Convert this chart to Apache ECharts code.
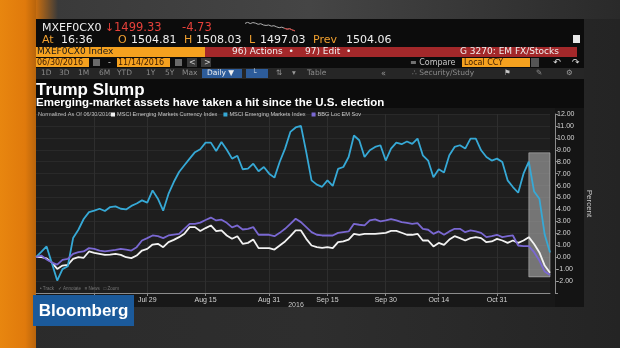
<!DOCTYPE html>
<html>
<head>
<meta charset="utf-8">
<script src="https://cdn.jsdelivr.net/npm/echarts@6/dist/echarts.min.js"></script>
<style>
html,body{margin:0;padding:0;background:#262626;}
#c{width:620px;height:348px;}
</style>
</head>
<body>
<div id="c"></div>
<script>
// Percent change since 06/30/2016, one value per weekday from Jun 30 to Nov 14 2016
const emCurrency = [0.00,0.00,-0.10,-0.45,-0.98,-0.70,-0.64,-0.14,0.00,-0.05,
  0.48,0.36,0.28,0.20,0.22,0.28,0.20,0.00,-0.08,0.14,
  0.56,0.70,1.06,1.12,0.84,1.26,1.45,1.68,1.96,2.52,
  2.52,2.20,2.44,2.66,2.18,2.24,1.82,1.55,1.76,1.12,
  1.20,1.48,0.76,0.76,0.76,0.64,0.98,1.32,1.76,2.24,
  2.24,1.54,0.98,0.84,0.78,0.84,0.76,1.26,1.32,1.48,
  1.96,1.88,1.96,1.96,1.96,2.00,2.04,2.20,2.20,2.05,
  1.88,1.88,1.96,1.40,1.40,0.90,1.20,1.04,1.48,1.76,
  1.60,1.40,1.60,1.68,1.60,1.26,1.32,1.54,1.40,1.20,
  1.40,1.20,1.40,1.68,1.10,0.40,-0.70,-1.30];
const emIndex = [0.00,0.45,0.90,-0.50,-1.96,-1.00,-0.76,1.60,2.30,3.20,
  3.78,3.90,4.06,3.87,4.20,4.26,4.06,4.00,4.30,4.50,
  4.76,4.57,5.60,4.90,3.90,5.30,6.30,7.14,7.70,8.26,
  8.80,9.05,9.60,9.60,8.90,9.66,9.00,8.26,8.50,7.37,
  7.42,7.84,7.20,7.56,7.00,6.67,8.00,9.10,10.50,10.87,
  11.00,8.80,6.44,6.08,5.90,6.44,5.97,7.40,7.56,8.40,
  10.20,9.80,8.40,8.96,9.24,9.38,8.10,9.10,9.60,9.47,
  9.70,9.50,9.94,8.54,8.10,6.70,7.37,7.10,8.54,9.24,
  9.38,9.10,9.94,9.94,8.96,8.40,8.10,8.26,7.98,6.44,
  5.88,5.40,7.00,8.00,5.50,4.90,1.90,0.40];
const locEmSov = [0.00,0.14,-0.20,-0.45,-0.62,-0.22,-0.14,0.28,0.42,0.48,
  0.76,0.70,0.56,0.48,0.56,0.62,0.70,0.64,0.56,0.84,
  1.40,1.60,1.82,1.76,1.60,1.82,1.90,1.96,2.38,2.80,
  2.80,2.90,3.12,3.32,3.08,3.14,2.88,2.50,2.66,2.32,
  2.38,2.52,1.88,1.88,1.88,1.76,2.04,2.38,2.80,3.22,
  2.94,2.52,2.10,1.88,1.82,1.82,1.82,2.04,2.10,2.16,
  2.80,2.72,2.66,3.08,3.17,3.00,3.08,3.20,3.08,2.94,
  2.88,2.80,2.86,2.38,2.30,1.96,2.16,1.88,2.16,2.38,
  2.38,2.10,2.24,2.16,2.04,1.68,1.76,1.88,1.68,1.76,
  1.82,0.98,0.92,0.92,0.42,-0.28,-1.20,-1.50];

const seriesNames = ['MSCI Emerging Markets Currency Index', 'MSCI Emerging Markets Index', 'BBG Loc EM Sov'];
const seriesColors = ['#f2f2f2', '#36a9d6', '#7a68d2'];

// x-axis tick dates and their labels
const tickDates = ['2016-07-15','2016-07-29','2016-08-15','2016-08-31','2016-09-15','2016-09-30','2016-10-14','2016-10-31'];
const tickLabels = ['Jul 15','Jul 29','Aug 15','Aug 31','Sep 15','Sep 30','Oct 14','Oct 31'];

// post-election window that is shaded
const shadeFrom = '2016-11-08', shadeTo = '2016-11-14';
const shadeTop = 8.75, shadeBottom = -1.65;

// header mini price trace
const sparkValues = [6.0,6.8,5.9,6.6,6.2,5.4,5.8,4.9,4.6,4.9,4.1,4.4,3.6,3.0,3.4,2.6,2.0,2.3,1.4,0.8];

// trading-day calendar (weekdays)
function weekdays(from, to) {
  const out = [];
  const d = new Date(from + 'T00:00:00Z');
  const end = new Date(to + 'T00:00:00Z');
  while (d <= end) {
    const w = d.getUTCDay();
    if (w !== 0 && w !== 6) out.push(d.toISOString().slice(0, 10));
    d.setUTCDate(d.getUTCDate() + 1);
  }
  return out;
}
const dates = weekdays('2016-06-30', '2016-11-14');
const tickSet = new Set(tickDates);
const labelOf = {};
tickDates.forEach((d, i) => { labelOf[d] = tickLabels[i]; });

const FONT = '"DejaVu Sans", sans-serif';
const SANS = '"Liberation Sans", Arial, sans-serif';

function txt(x, y, s, color, size, extra) {
  return Object.assign({
    type: 'text', x: x, y: y, z: 20,
    style: { text: s, fill: color, font: size + 'px ' + FONT, textVerticalAlign: 'middle' }
  }, extra || {});
}
function box(x, y, w, h, color, z) {
  return { type: 'rect', shape: { x: x, y: y, width: w, height: h }, style: { fill: color }, z: z === undefined ? -5 : z };
}

const graphics = [
  // studio backdrop
  { type: 'rect', shape: { x: 0, y: 0, width: 620, height: 348 }, z: -20,
    style: { fill: new echarts.graphic.LinearGradient(0, 0, 1, 0, [
      { offset: 0, color: '#2b2b2b' }, { offset: 0.5, color: '#2e2e2e' }, { offset: 1, color: '#242424' }]) } },
  { type: 'rect', shape: { x: 55, y: 0, width: 565, height: 19 }, z: -19,
    style: { fill: new echarts.graphic.LinearGradient(0, 0, 1, 0, [
      { offset: 0, color: '#3a3a3a' }, { offset: 0.45, color: '#454545' }, { offset: 1, color: '#2a2a2a' }]) } },
  // orange edge
  { type: 'rect', shape: { x: 0, y: 0, width: 36, height: 348 }, z: -18,
    style: { fill: new echarts.graphic.LinearGradient(0, 0, 1, 0, [
      { offset: 0, color: '#e8860f' }, { offset: 0.7, color: '#e07a0c' }, { offset: 1, color: '#b8640c' }]) } },
  { type: 'rect', shape: { x: 36, y: 0, width: 22, height: 19 }, z: -18,
    style: { fill: new echarts.graphic.LinearGradient(0, 0, 1, 0, [
      { offset: 0, color: '#c86e10' }, { offset: 1, color: '#3a3a3a' }]) } },

  // terminal screen
  box(36, 19, 548, 288, '#0c0c0c', -10),
  box(36, 108, 548, 199, '#181818', -9),
  box(555, 108, 29, 199, '#141414', -8),

  // row 1
  txt(42, 28, 'MXEF0CX0', '#f0f0f0', 11),
  txt(105, 28, '\u2193', '#e5403a', 11),
  txt(114, 28, '1499.33', '#e5403a', 11.5),
  txt(182, 28, '-4.73', '#e5403a', 11.5),
  // row 2
  txt(42, 40, 'At', '#f0a030', 11),
  txt(61, 40, '16:36', '#f0f0f0', 11),
  txt(118, 40, 'O', '#f0a030', 11),
  txt(131, 40, '1504.81', '#f0f0f0', 11),
  txt(184, 40, 'H', '#f0a030', 11),
  txt(196, 40, '1508.03', '#f0f0f0', 11),
  txt(249, 40, 'L', '#f0a030', 11),
  txt(260, 40, '1497.03', '#f0f0f0', 11),
  txt(313, 40, 'Prev', '#f0a030', 11),
  txt(346, 40, '1504.06', '#f0f0f0', 11),
  box(573, 35, 7, 8, '#e8e8e8', 10),
  // row 3
  box(36, 47, 169, 10, '#f5a11f', -4),
  box(205, 47, 372, 10, '#a3282a', -4),
  txt(37, 52, 'MXEF0CX0 Index', '#1a1a1a', 9),
  txt(232, 52, '96) Actions  \u2022', '#f0f0f0', 9),
  txt(305, 52, '97) Edit  \u2022', '#f0f0f0', 9),
  txt(460, 52, 'G 3270: EM FX/Stocks', '#f0f0f0', 9),
  // row 4
  box(36, 58, 53, 9, '#f5a11f', -4),
  txt(37, 62.5, '06/30/2016', '#3a1a00', 8),
  box(93, 59, 7, 7, '#6a6a6a', -4),
  txt(108, 62.5, '-', '#d0d0d0', 8),
  box(117, 58, 53, 9, '#f5a11f', -4),
  txt(118, 62.5, '11/14/2016', '#3a1a00', 8),
  box(175, 59, 7, 7, '#6a6a6a', -4),
  box(187, 58, 10, 9, '#3a3a3a', -4),
  box(201, 58, 10, 9, '#3a3a3a', -4),
  txt(189, 62.5, '<', '#d0d0d0', 8),
  txt(204, 62.5, '>', '#d0d0d0', 8),
  txt(410, 62.5, '\u2261 Compare', '#c8c8c8', 8),
  box(462, 58, 68, 9, '#f5a11f', -4),
  txt(464, 62.5, 'Local CCY', '#3a1a00', 8),
  box(531, 58, 8, 9, '#555', -4),
  txt(553, 62.5, '\u21B6', '#e0e0e0', 9),
  txt(572, 62.5, '\u21B7', '#e0e0e0', 9),
  // row 5
  box(36, 68, 548, 11, '#262626', -4),
  txt(41, 73.5, '1D', '#8a8a8a', 7.5),
  txt(59, 73.5, '3D', '#8a8a8a', 7.5),
  txt(78, 73.5, '1M', '#8a8a8a', 7.5),
  txt(99, 73.5, '6M', '#8a8a8a', 7.5),
  txt(117, 73.5, 'YTD', '#8a8a8a', 7.5),
  txt(146, 73.5, '1Y', '#8a8a8a', 7.5),
  txt(165, 73.5, '5Y', '#8a8a8a', 7.5),
  txt(182, 73.5, 'Max', '#8a8a8a', 7.5),
  box(202, 69, 40, 9, '#2d5c9a', -3),
  txt(207, 73.5, 'Daily \u25BC', '#f0f0f0', 7.5),
  box(246, 69, 22, 9, '#2d5c9a', -3),
  txt(252, 73.5, '\u2514', '#bcd', 7.5),
  txt(276, 73.5, '\u21C5', '#9a9a9a', 7.5),
  txt(292, 73.5, '\u25BE', '#9a9a9a', 7.5),
  txt(307, 73.5, 'Table', '#8a8a8a', 7.5),
  txt(381, 73.5, '\u00AB', '#9a9a9a', 8),
  txt(412, 73.5, '\u2234 Security/Study', '#8a8a8a', 7.5),
  txt(504, 73.5, '\u2691', '#c8c8c8', 7.5),
  txt(536, 73.5, '\u270E', '#9a9a9a', 7.5),
  txt(566, 73.5, '\u2699', '#9a9a9a', 7.5),

  // headline
  { type: 'text', x: 36, y: 90, z: 20, style: { text: 'Trump Slump', fill: '#ffffff',
    font: 'bold 17px ' + SANS, textVerticalAlign: 'middle' } },
  { type: 'text', x: 36, y: 102.5, z: 20, style: { text: 'Emerging-market assets have taken a hit since the U.S. election',
    fill: '#ffffff', font: 'bold 11.5px ' + SANS, textVerticalAlign: 'middle' } },
  // legend prefix
  { type: 'text', x: 38, y: 114.5, z: 20, style: { text: 'Normalized As Of 06/30/2016', fill: '#bdbdbd',
    font: '5.6px ' + SANS, textVerticalAlign: 'middle' } },
  // chart toolbar at the bottom of the plot
  { type: 'text', x: 40, y: 289, z: 20, style: { text: '\u2022 Track   \u2713 Annotate   \u2261 News   \u25A1 Zoom', fill: '#777',
    font: '4.5px ' + SANS, textVerticalAlign: 'middle' } },
  { type: 'text', x: 296, y: 305, z: 20, style: { text: '2016', fill: '#c8c8c8',
    font: '7px ' + SANS, textAlign: 'center', textVerticalAlign: 'middle' } },

  // network logo
  box(33, 295, 101, 31, '#1b5a9b', 100),
  { type: 'text', x: 83.5, y: 311, z: 101, style: { text: 'Bloomberg', fill: '#ffffff',
    font: 'bold 17px ' + SANS, textAlign: 'center', textVerticalAlign: 'middle' } }
];

const chart = echarts.init(document.getElementById('c'));

const lineSeries = [1, 2, 0].map(i => ({
  name: seriesNames[i],
  type: 'line',
  data: [emCurrency, emIndex, locEmSov][i],
  symbol: 'none',
  lineStyle: { color: seriesColors[i], width: 1.8 },
  itemStyle: { color: seriesColors[i] },
  z: 3 + i,
  animation: false
}));

chart.setOption({
  backgroundColor: 'transparent',
  animation: false,
  graphic: graphics,
  legend: {
    data: seriesNames,
    left: 111, top: 111.5,
    icon: 'rect', itemWidth: 4, itemHeight: 4, itemGap: 6,
    textStyle: { color: '#c8c8c8', fontSize: 5.6, fontFamily: SANS, padding: [0, 0, 0, -3] },
    padding: 0,
    selectedMode: false
  },
  grid: [
    { left: 36, right: 70, top: 114, height: 179, show: true, backgroundColor: '#1e1e1e', borderWidth: 0 },
    { left: 245, top: 22, width: 50, height: 10 }
  ],
  xAxis: [{
    type: 'category', data: dates, boundaryGap: false,
    axisLine: { onZero: false, lineStyle: { color: '#8c8c8c', width: 1 } },
    axisTick: { show: true, length: 3, interval: (i, v) => tickSet.has(v), lineStyle: { color: '#8c8c8c' } },
    axisLabel: { interval: (i, v) => tickSet.has(v), formatter: v => labelOf[v] || '',
      color: '#d4d4d4', fontSize: 7, fontFamily: SANS, margin: 4 },
    splitLine: { show: true, interval: (i, v) => tickSet.has(v), lineStyle: { color: '#2e2e2e', width: 1 } }
  }, {
    gridIndex: 1, type: 'category', show: false, boundaryGap: false,
    data: sparkValues.map((v, i) => i)
  }],
  yAxis: [{
    type: 'value', position: 'right', min: -3, max: 12, interval: 1, offset: 5,
    axisLine: { show: true, lineStyle: { color: '#8c8c8c' } },
    axisTick: { show: true, length: 3, lineStyle: { color: '#8c8c8c' } },
    axisLabel: { formatter: v => (v < -2 ? '' : v.toFixed(2)), color: '#d4d4d4', fontSize: 7, fontFamily: SANS, margin: 2 },
    splitLine: { show: true, lineStyle: { color: '#292929', width: 1 } },
    name: 'Percent', nameLocation: 'middle', nameRotate: -90, nameGap: 23,
    nameTextStyle: { color: '#c8c8c8', fontSize: 8, fontFamily: SANS }
  }, {
    gridIndex: 1, type: 'value', show: false, scale: true
  }],
  series: lineSeries.concat([
    {
      name: 'shade', type: 'line', data: [], z: 20, silent: true,
      markArea: {
        silent: true,
        itemStyle: { color: 'rgba(175,175,175,0.6)', borderColor: 'rgba(200,200,200,0.5)', borderWidth: 1 },
        data: [[{ xAxis: shadeFrom, yAxis: shadeTop }, { xAxis: shadeTo, yAxis: shadeBottom }]]
      }
    },
    {
      type: 'line', xAxisIndex: 1, yAxisIndex: 1, data: sparkValues, symbol: 'none',
      lineStyle: { color: '#b0b0b0', width: 1 }, silent: true
    },
    {
      type: 'line', xAxisIndex: 1, yAxisIndex: 1,
      data: sparkValues.map((v, i) => (i >= sparkValues.length - 5 ? v : null)), symbol: 'none',
      lineStyle: { color: '#d03a36', width: 1 }, silent: true
    }
  ])
});
</script>
</body>
</html>
